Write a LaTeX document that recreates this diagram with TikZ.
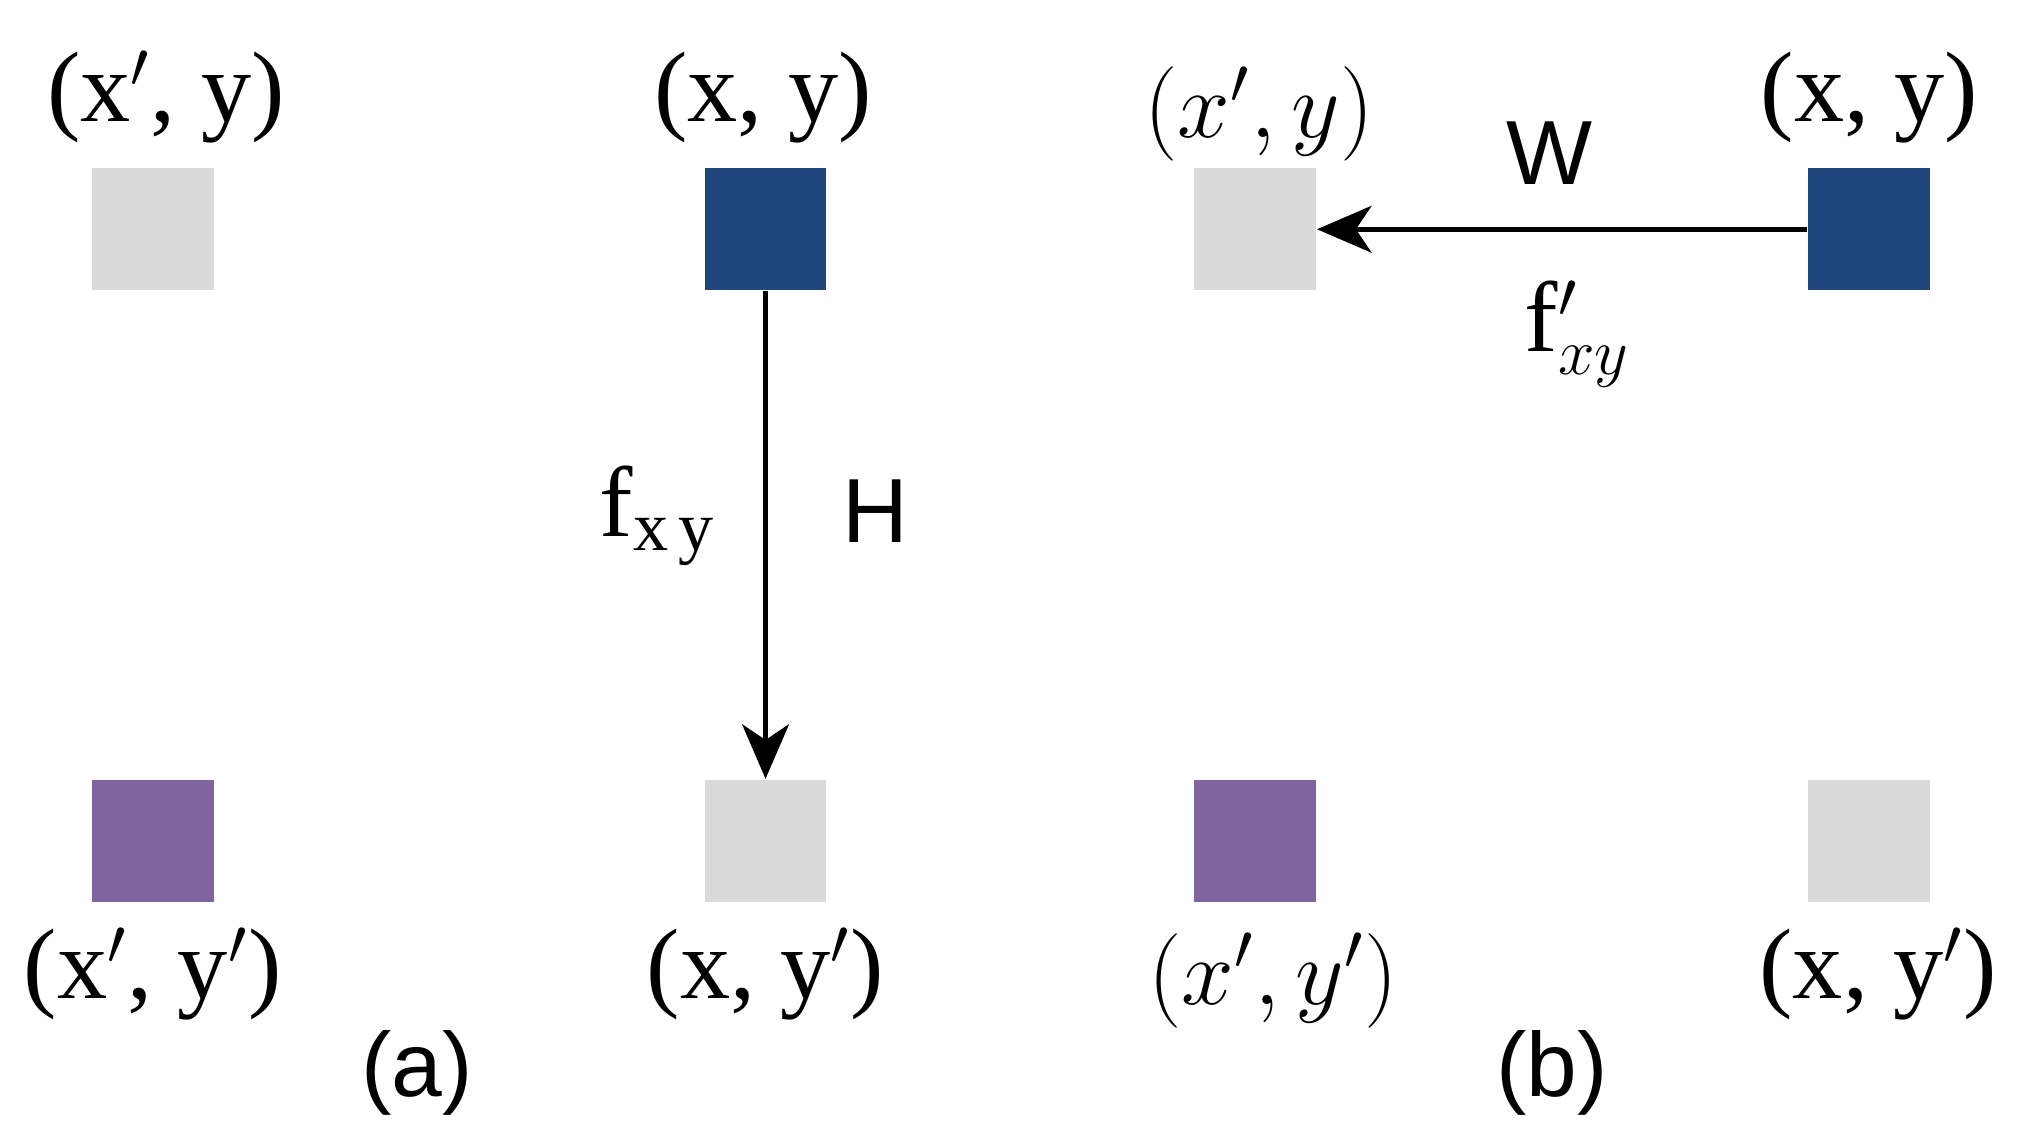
\documentclass[tikz,border=0pt]{standalone}
\usepackage{fontspec}
\setmainfont{Liberation Serif}
\newfontfamily\sanf{Liberation Sans}
\usetikzlibrary{arrows.meta}
\definecolor{lg}{RGB}{217,217,217}
\definecolor{db}{RGB}{31,71,125}
\definecolor{pu}{RGB}{128,100,160}
\begin{document}
\begin{tikzpicture}[x=0.01cm,y=-0.01cm,
  sq/.style={minimum size=0.94cm,inner sep=0,draw=none},
  lab/.style={font=\fontsize{22}{26}\selectfont},
  sl/.style={font=\sanf\fontsize{20}{24}\selectfont},
  arr/.style={line width=1.2pt,-{Stealth[length=0.42cm,width=0.36cm,inset=0.12cm]}}]
\useasboundingbox (0,0) rectangle (1561,883);
\node[sq,fill=lg] (a1) at (118,177) {};
\node[sq,fill=db] (a2) at (591,177) {};
\node[sq,fill=pu] (a3) at (118,649) {};
\node[sq,fill=lg] (a4) at (591,649) {};
\node[sq,fill=lg] (b1) at (969,177) {};
\node[sq,fill=db] (b2) at (1443,177) {};
\node[sq,fill=pu] (b3) at (969,649) {};
\node[sq,fill=lg] (b4) at (1443,649) {};
\node[lab] (t1) at (128,75) {(x$'$, y)};
\node[lab] (t2) at (589,75) {(x, y)};
\node[lab] (t3) at (972,88) {$(x', y)$};
\node[lab] (t4) at (1443,75) {(x, y)};
\node[lab] (u1) at (118,752) {(x$'$, y$'$)};
\node[lab] (u2) at (591,752) {(x, y$'$)};
\node[lab] (u3) at (983,757) {$(x',y')$};
\node[lab] (u4) at (1450,752) {(x, y$'$)};
\draw[arr] (a2.south) -- (a4.north);
\draw[arr] (b2.west) -- (b1.east);
\node[lab] (f1) at (508,398) {f$_{\mathrm{x\,y}}$};
\node[sl] (h) at (676,395) {H};
\node[sl] (w) at (1196,118) {W};
\node[lab] (f2) at (1218,258) {f$'_{xy}$};
\node[sl] (la) at (322,828) {(a)};
\node[sl] (lb) at (1198,828) {(b)};
\end{tikzpicture}
\end{document}
